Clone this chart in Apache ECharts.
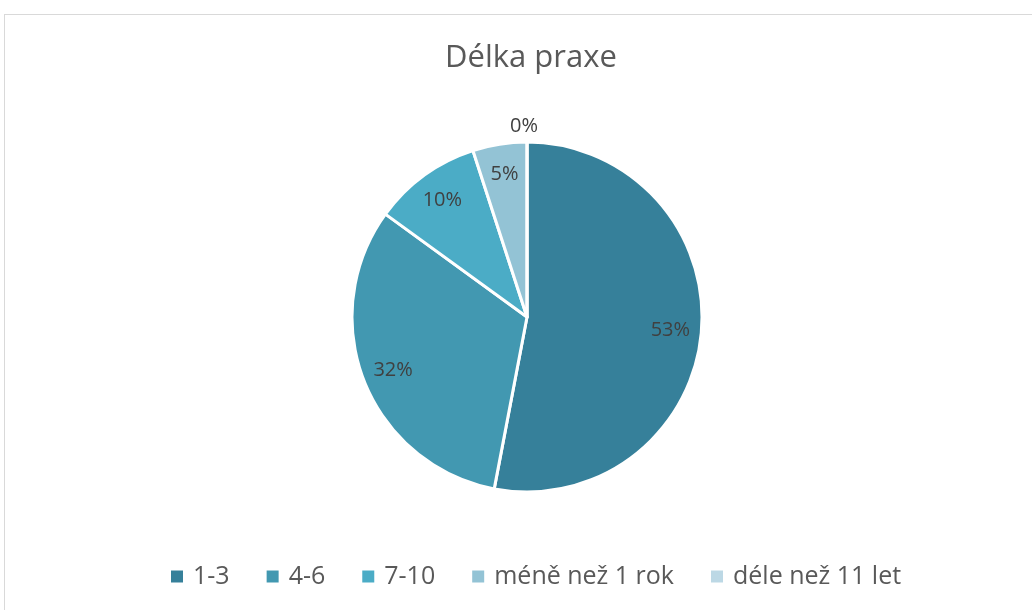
<!DOCTYPE html>
<html lang="cs">
<head>
    <meta charset="UTF-8">
    <title>Délka praxe</title>
    <script src="https://cdn.jsdelivr.net/npm/echarts@6/dist/echarts.min.js"></script>
    <style>
        body { margin: 0; background: #fff; }
        .frame { position: absolute; left: 4px; top: 14px; width: 1100px; height: 700px;
                 border-left: 1px solid #d9d9d9; border-top: 1px solid #d9d9d9; }
        #main { position: absolute; left: 0; top: 0; width: 1032px; height: 610px; }
    </style>
</head>
<body>
<div class="frame"></div>
<div id="main"></div>

<script type="text/javascript">
    // data
    var categories = ['1-3', '4-6', '7-10', 'méně než 1 rok', 'déle než 11 let'];
    var values = [53, 32, 10, 5, 0];
    var colors = ['#36809A', '#4298B1', '#4BACC6', '#93C3D5', '#BCD8E5'];

    var font = '"Open Sans", "Noto Sans", sans-serif';

    // visible pie: no labels except the zero slice which sits outside
    var pieData = [];
    var labelData = [];
    for (var i = 0; i < categories.length; i++) {
        var zero = values[i] === 0;
        pieData.push({
            name: categories[i],
            value: values[i],
            itemStyle: { color: colors[i] },
            label: zero ? {
                show: true, position: 'outside',
                color: '#404040', fontSize: 20, fontFamily: font,
                offset: [16, -12],
                formatter: values[i] + '%'
            } : { show: false },
            labelLine: { show: false, length: 4, length2: 0 }
        });
        labelData.push({
            name: categories[i],
            value: values[i],
            label: { show: !zero, formatter: values[i] + '%' }
        });
    }

    var myChart = echarts.init(document.getElementById('main'));

    var option = {
        animation: false,
        title: {
            text: 'Délka praxe',
            left: 440,
            top: 38,
            textStyle: { color: '#595959', fontSize: 31, fontWeight: 'normal', fontFamily: font }
        },
        legend: {
            data: categories,
            top: 564,
            left: 171,
            padding: 0,
            icon: 'rect',
            itemWidth: 12,
            itemHeight: 12,
            itemGap: 37,
            itemStyle: { borderWidth: 0 },
            textStyle: { color: '#595959', fontSize: 25, fontFamily: font, padding: [0, 0, 0, 5] }
        },
        series: [{
            type: 'pie',
            center: [527, 317],
            radius: 175,
            startAngle: 90,
            clockwise: true,
            stillShowZeroSum: true,
            itemStyle: { borderColor: '#fff', borderWidth: 3 },
            labelLayout: { hideOverlap: false },
            emphasis: { disabled: true },
            data: pieData
        }, {
            // transparent twin used to place the percentages at ~0.8 of the radius
            type: 'pie',
            center: [527, 317],
            radius: 282,
            startAngle: 90,
            clockwise: true,
            silent: true,
            legendHoverLink: false,
            itemStyle: { color: 'rgba(0,0,0,0)', borderWidth: 0 },
            label: {
                position: 'inside',
                color: '#404040',
                fontSize: 20,
                fontFamily: font
            },
            labelLine: { show: false },
            emphasis: { disabled: true },
            data: labelData
        }]
    };

    myChart.setOption(option);
</script>
</body>
</html>
